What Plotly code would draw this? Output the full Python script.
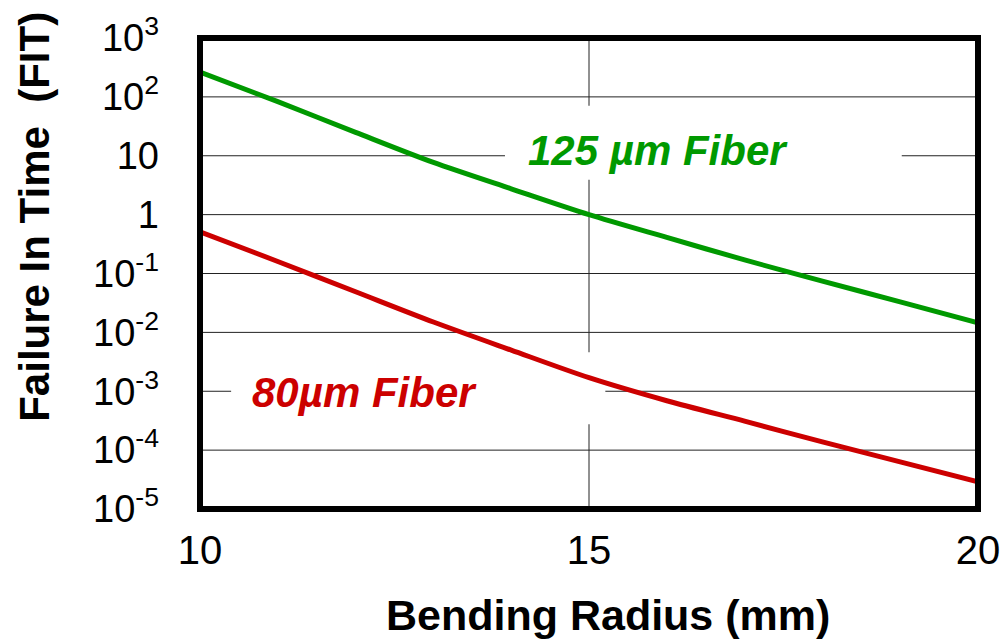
import math
import plotly.graph_objects as go

# Data
radius_mm = [10, 11, 12, 13, 14, 15, 16, 17, 18, 19, 20]
fit_125um = [263, 83, 25, 7.7, 2.75, 1.0, 0.41, 0.17, 0.074, 0.033, 0.0145]
fit_80um = [0.51, 0.16, 0.049, 0.015, 0.0050, 0.0017, 0.00069, 0.00031, 0.000138, 0.000063, 0.000029]

y_tickvals = [1e-5, 1e-4, 1e-3, 1e-2, 1e-1, 1, 10, 100, 1000]
y_ticktext = ["10<sup>-5</sup>", "10<sup>-4</sup>", "10<sup>-3</sup>", "10<sup>-2</sup>",
              "10<sup>-1</sup>", "1", "10", "10<sup>2</sup>", "10<sup>3</sup>"]
x_tickvals = [10, 15, 20]
Y_LOG_RANGE = [-5, 3]
X_RANGE = [10, 20]

GREEN = "#009900"
RED = "#cc0000"
GRID = "#222222"
FONT = "Arial, Liberation Sans, sans-serif"

fig = go.Figure()
fig.add_trace(go.Scatter(x=radius_mm, y=fit_125um, mode="lines",
                         line=dict(color=GREEN, width=5, shape="spline", smoothing=0.8),
                         showlegend=False, hoverinfo="skip"))
fig.add_trace(go.Scatter(x=radius_mm, y=fit_80um, mode="lines",
                         line=dict(color=RED, width=5, shape="spline", smoothing=0.8),
                         showlegend=False, hoverinfo="skip"))

# grid lines (drawn as shapes so that the label backgrounds can mask them)
for v in y_tickvals:
    f = (math.log10(v) - Y_LOG_RANGE[0]) / (Y_LOG_RANGE[1] - Y_LOG_RANGE[0])
    fig.add_shape(type="line", xref="x domain", yref="y domain", x0=0, x1=1, y0=f, y1=f,
                  line=dict(color=GRID, width=1), layer="below")
for v in x_tickvals:
    f = (v - X_RANGE[0]) / (X_RANGE[1] - X_RANGE[0])
    fig.add_shape(type="line", xref="x domain", yref="y domain", x0=f, x1=f, y0=0, y1=1,
                  line=dict(color=GRID, width=1), layer="below")

# white label backgrounds (above grid, below traces)
fig.add_shape(type="rect", xref="x domain", yref="y domain", x0=0.392, x1=0.902, y0=0.699, y1=0.856,
              fillcolor="white", line=dict(width=0), layer="below")
fig.add_shape(type="rect", xref="x domain", yref="y domain", x0=0.040, x1=0.521, y0=0.180, y1=0.333,
              fillcolor="white", line=dict(width=0), layer="below")
# thick frame
fig.add_shape(type="rect", xref="paper", yref="paper", x0=0, x1=1, y0=0, y1=1,
              line=dict(color="black", width=6), layer="above")

fig.add_annotation(text="<b><i>125 µm Fiber</i></b>", xref="paper", yref="paper",
                   x=0.589, y=0.762, showarrow=False, xanchor="center", yanchor="middle",
                   font=dict(family=FONT, size=42, color=GREEN))
fig.add_annotation(text="<b><i>80µm Fiber</i></b>", xref="paper", yref="paper",
                   x=0.212, y=0.248, showarrow=False, xanchor="center", yanchor="middle",
                   font=dict(family=FONT, size=42, color=RED))
fig.add_annotation(text="<b>Failure In Time  (FIT)</b>", xref="paper", yref="paper",
                   x=-0.213, y=0.621, showarrow=False, textangle=-90,
                   xanchor="center", yanchor="middle",
                   font=dict(family=FONT, size=42, color="black"))
fig.add_annotation(text="<b>Bending Radius (mm)</b>", xref="paper", yref="paper",
                   x=0.524, y=-0.225, showarrow=False, xanchor="center", yanchor="middle",
                   font=dict(family=FONT, size=43, color="black"))

fig.update_xaxes(range=X_RANGE, tickvals=x_tickvals, showgrid=False,
                 zeroline=False, showline=False,
                 ticks="", ticklabelstandoff=14, automargin=False,
                 tickfont=dict(family=FONT, size=40, color="black"))
fig.update_yaxes(type="log", range=Y_LOG_RANGE, tickvals=y_tickvals, ticktext=y_ticktext,
                 showgrid=False, zeroline=False,
                 showline=False, ticks="", ticklabelstandoff=40, automargin=False,
                 tickfont=dict(family=FONT, size=38, color="black"))

fig.update_layout(width=1005, height=641, margin=dict(l=200, r=27, t=38, b=132, autoexpand=False),
                  plot_bgcolor="white", paper_bgcolor="white")

# remove the default 8px page margin so the figure fills the window exactly
fig.write_html("out.html", config={"displayModeBar": False},
               post_script="document.body.style.margin='0';document.body.style.overflow='hidden';")
